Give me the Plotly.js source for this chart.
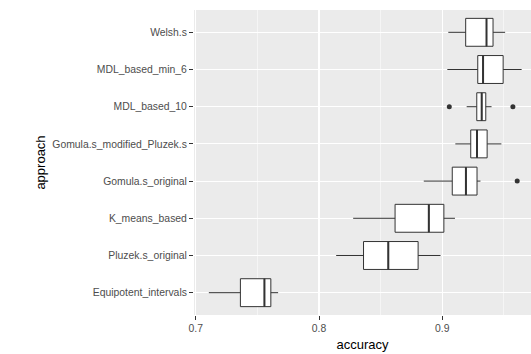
<!DOCTYPE html>
<html>
<head>
<meta charset="utf-8">
<script src="https://cdn.plot.ly/plotly-3.0.1.min.js"></script>
<style>html,body{margin:0;padding:0;background:#fff;}#chart{width:531px;height:354px;}</style>
</head>
<body>
<div id="chart"></div>
<script>
// Categories from bottom to top
const approaches = ["Equipotent_intervals","Pluzek.s_original","K_means_based","Gomula.s_original","Gomula.s_modified_Pluzek.s","MDL_based_10","MDL_based_min_6","Welsh.s"];
const lowerWhisker = [0.7106, 0.8139, 0.8277, 0.8850, 0.9106, 0.9198, 0.9041, 0.9049];
const q1Values     = [0.7362, 0.8361, 0.8617, 0.9081, 0.9231, 0.9280, 0.9288, 0.9190];
const medianValues = [0.7557, 0.8562, 0.8891, 0.9192, 0.9282, 0.9320, 0.9331, 0.9359];
const q3Values     = [0.7609, 0.8804, 0.9013, 0.9282, 0.9364, 0.9353, 0.9494, 0.9412];
const upperWhisker = [0.7668, 0.8986, 0.9103, 0.9310, 0.9480, 0.9400, 0.9644, 0.9510];
const outlierApproach = ["Gomula.s_original","MDL_based_10","MDL_based_10"];
const outlierValues   = [0.9608, 0.9057, 0.9573];
const xTickVals = [0.7, 0.8, 0.9];

const pos = approaches.map((_, i) => i + 1);
const halfW = 0.375;
const medX = [], medY = [];
medianValues.forEach((m, i) => { medX.push(m, m, null); medY.push(pos[i] - halfW, pos[i] + halfW, null); });
const outY = outlierApproach.map(a => approaches.indexOf(a) + 1);

const traces = [
  {
    type: 'box', orientation: 'h',
    y: pos, q1: q1Values, median: medianValues, q3: q3Values,
    lowerfence: lowerWhisker, upperfence: upperWhisker,
    width: 0.75, whiskerwidth: 0, boxpoints: false,
    fillcolor: '#ffffff', line: {color: '#333333', width: 1},
    hoverinfo: 'skip', showlegend: false
  },
  {
    type: 'scatter', mode: 'lines', x: medX, y: medY,
    line: {color: '#333333', width: 2}, hoverinfo: 'skip', showlegend: false
  },
  {
    type: 'scatter', mode: 'markers', x: outlierValues, y: outY,
    marker: {color: '#333333', size: 5}, hoverinfo: 'skip', showlegend: false
  }
];

const layout = {
  width: 531, height: 354,
  margin: {l: 194, r: 0, t: 10, b: 39},
  paper_bgcolor: '#ffffff', plot_bgcolor: '#EBEBEB',
  font: {family: 'Liberation Sans, Arial, sans-serif', color: '#4D4D4D', size: 10.4},
  xaxis: {
    range: [0.69855, 0.972],
    tickvals: xTickVals, ticktext: xTickVals.map(v => v.toFixed(1)),
    showgrid: true, gridcolor: '#ffffff', gridwidth: 1.1,
    minor: {dtick: 0.05, tick0: 0.65, showgrid: true, gridcolor: '#ffffff', gridwidth: 0.5},
    zeroline: false, showline: false,
    ticks: 'outside', ticklen: 4, tickcolor: '#333333', tickwidth: 1,
    tickfont: {size: 10.4, color: '#4D4D4D'},
    title: {text: 'accuracy', font: {size: 13, color: '#000000'}, standoff: 6}
  },
  yaxis: {
    range: [0.4, 8.6],
    tickvals: pos, ticktext: approaches,
    showgrid: true, gridcolor: '#ffffff', gridwidth: 1.1,
    zeroline: false, showline: false,
    ticks: 'outside', ticklen: 4, tickcolor: '#333333', tickwidth: 1,
    tickfont: {size: 10.4, color: '#4D4D4D'},
    title: {text: 'approach', font: {size: 13, color: '#000000'}, standoff: 3}
  }
};

Plotly.newPlot('chart', traces, layout, {displayModeBar: false, staticPlot: true});
</script>
</body>
</html>
